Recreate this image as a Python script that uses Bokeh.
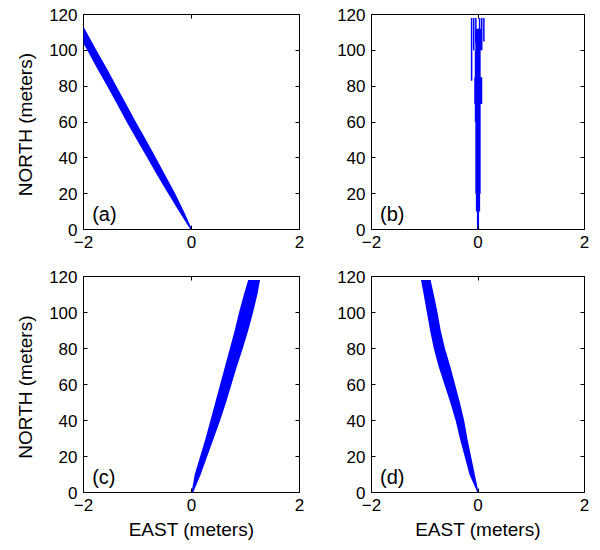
from bokeh.plotting import figure
from bokeh.models import Range1d, LinearAxis, FixedTicker, Label, ColumnDataSource
from bokeh.layouts import gridplot
from bokeh.embed import file_html
from bokeh.resources import INLINE

# ---------------- data ----------------
north = [0, 10, 20, 30, 40, 50, 60, 70, 80, 90, 100, 110, 118]

# (a) track band: left / right EAST edges (meters)
a_left = [-0.02, -0.23, -0.43, -0.63, -0.82, -1.01, -1.20, -1.38, -1.56, -1.75, -1.93, -2.12, -2.27]
a_right = [0.01, -0.14, -0.30, -0.48, -0.66, -0.84, -1.03, -1.21, -1.39, -1.57, -1.76, -1.94, -2.09]

# (c) track band
c_left = [0.00, 0.06, 0.16, 0.26, 0.35, 0.44, 0.53, 0.62, 0.71, 0.80, 0.88, 0.97, 1.05]
c_right = [0.03, 0.17, 0.29, 0.41, 0.53, 0.64, 0.74, 0.84, 0.95, 1.05, 1.14, 1.22, 1.27]

# (d) track band
d_left = [-0.01, -0.16, -0.25, -0.34, -0.42, -0.52, -0.63, -0.74, -0.83, -0.90, -0.96, -1.02, -1.07]
d_right = [0.01, -0.06, -0.13, -0.20, -0.26, -0.34, -0.43, -0.52, -0.62, -0.70, -0.76, -0.83, -0.89]

# (b) stepped narrow band around EAST = 0
b_north = [0, 10, 10, 20, 20, 60, 60, 70, 70, 85, 85, 100, 100, 112]
b_left = [-0.02, -0.02, -0.04, -0.04, -0.05, -0.05, -0.06, -0.06, -0.07, -0.07, -0.06, -0.06, -0.05, -0.05]
b_right = [0.02, 0.02, 0.04, 0.04, 0.05, 0.05, 0.05, 0.05, 0.08, 0.08, 0.05, 0.05, 0.06, 0.06]

# (b) thin outlying traces near the top
b_trace_x = [-0.12, -0.08, -0.04, 0.03, 0.07, 0.11]
b_trace_from = [83, 100, 104, 104, 100, 105]
b_trace_to = [118, 118, 118, 118, 118, 118]

x_ticks = [-2, 0, 2]
y_ticks = [0, 20, 40, 60, 80, 100, 120]
panel_labels = ["(a)", "(b)", "(c)", "(d)"]
x_title = "EAST (meters)"
y_title = "NORTH  (meters)"

FONT = "Liberation Sans"
BLUE = "#0000ff"


def style_axis(ax, show_labels=True):
    ax.major_tick_in = 4
    ax.major_tick_out = 0
    ax.minor_tick_in = 0
    ax.minor_tick_out = 0
    ax.major_tick_line_color = "black"
    ax.axis_line_color = None
    ax.major_label_text_font = FONT
    ax.axis_label_text_font = FONT
    ax.axis_label_text_font_style = "normal"
    ax.axis_label_text_color = "black"
    ax.axis_label_text_font_size = "19px"
    if show_labels:
        ax.major_label_text_color = "black"
        ax.major_label_text_font_size = "17px"
        ax.major_label_standoff = 6
    else:
        ax.major_label_text_color = None
        ax.major_label_text_font_size = "1px"
        ax.major_label_standoff = 0


def make_panel(label, fw, fh, bl, br, bt, bb, show_ylabel, show_xlabel):
    p = figure(frame_width=fw, frame_height=fh,
               x_range=Range1d(-2, 2), y_range=Range1d(0, 120),
               output_backend="svg", toolbar_location=None,
               min_border_left=bl, min_border_right=br,
               min_border_top=bt, min_border_bottom=bb,
               background_fill_color="white", border_fill_color="white")
    p.grid.visible = False
    p.outline_line_color = "black"
    p.outline_line_width = 1
    p.outline_line_alpha = 1.0

    p.xaxis.ticker = FixedTicker(ticks=x_ticks)
    p.yaxis.ticker = FixedTicker(ticks=y_ticks)
    for ax in p.xaxis + p.yaxis:
        style_axis(ax)
    if show_ylabel:
        p.yaxis.axis_label = y_title
        p.yaxis.axis_label_standoff = 10
    if show_xlabel:
        p.xaxis.axis_label = x_title
        p.xaxis.axis_label_standoff = 5

    top = LinearAxis(ticker=FixedTicker(ticks=x_ticks))
    right = LinearAxis(ticker=FixedTicker(ticks=y_ticks))
    style_axis(top, show_labels=False)
    style_axis(right, show_labels=False)
    p.add_layout(top, "above")
    p.add_layout(right, "right")

    p.add_layout(Label(x=-1.84, y=8.5, text=label, text_baseline="middle",
                       text_align="left", text_font=FONT, text_font_size="20px",
                       text_color="black"))
    return p


pa = make_panel(panel_labels[0], 216, 215, 83, 12, 14, 31, True, False)
pb = make_panel(panel_labels[1], 213, 215, 60, 6, 14, 31, False, False)
pc = make_panel(panel_labels[2], 216, 216, 83, 12, 16, 47, True, True)
pd = make_panel(panel_labels[3], 213, 216, 60, 6, 16, 47, False, True)

pa.harea(x1="l", x2="r", y="n", source=ColumnDataSource(dict(l=a_left, r=a_right, n=north)),
         fill_color=BLUE, fill_alpha=1.0)
pc.harea(x1="l", x2="r", y="n", source=ColumnDataSource(dict(l=c_left, r=c_right, n=north)),
         fill_color=BLUE, fill_alpha=1.0)
pd.harea(x1="l", x2="r", y="n", source=ColumnDataSource(dict(l=d_left, r=d_right, n=north)),
         fill_color=BLUE, fill_alpha=1.0)
pb.harea(x1="l", x2="r", y="n", source=ColumnDataSource(dict(l=b_left, r=b_right, n=b_north)),
         fill_color=BLUE, fill_alpha=1.0)
pb.segment(x0="x", y0="y0", x1="x", y1="y1",
           source=ColumnDataSource(dict(x=b_trace_x, y0=b_trace_from, y1=b_trace_to)),
           line_color=BLUE, line_width=1.5)

grid = gridplot([[pa, pb], [pc, pd]], toolbar_location=None)

open("out.html", "w").write(file_html(grid, INLINE))
